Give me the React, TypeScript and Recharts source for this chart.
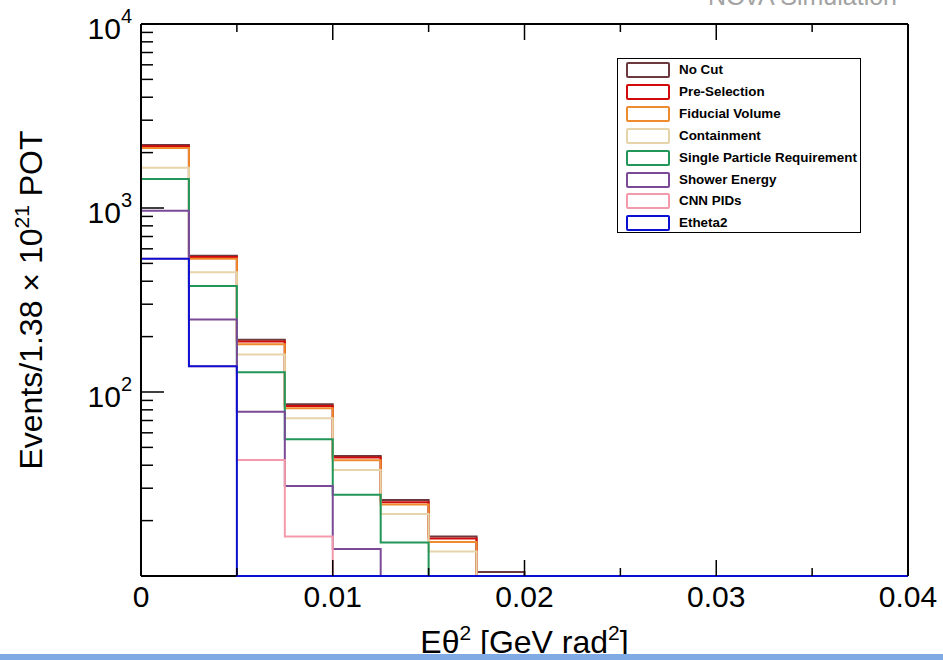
import React from "react";
import { LineChart, Line, XAxis, YAxis, CartesianGrid } from "recharts";

const FONT = '"Liberation Sans", Arial, Helvetica, sans-serif';
const Y_MIN = 10;
const Y_MAX = 10000;

// bin edges of the Etheta2 histogram (16 bins + upper edge)
const binEdges = [
  0, 0.0025, 0.005, 0.0075, 0.01, 0.0125, 0.015, 0.0175, 0.02, 0.0225, 0.025,
  0.0275, 0.03, 0.0325, 0.035, 0.0375, 0.04,
];

// events per bin for each cut stage (0 = empty bin, drawn on the axis floor)
const noCut = [2200, 551, 192, 85.7, 44.9, 25.9, 16.4, 10.5, 0, 0, 0, 0, 0, 0, 0, 0];
const preSelection = [2164, 542, 188, 84, 44, 25.2, 16, 0, 0, 0, 0, 0, 0, 0, 0, 0];
const fiducialVolume = [2118, 530, 182, 81.5, 42.6, 24.5, 15.3, 0, 0, 0, 0, 0, 0, 0, 0, 0];
const containment = [1656, 447, 160, 71.9, 37.7, 21.7, 13.6, 0, 0, 0, 0, 0, 0, 0, 0, 0];
const singleParticle = [1439, 377, 128, 55.3, 27.6, 15.2, 0, 0, 0, 0, 0, 0, 0, 0, 0, 0];
const showerEnergy = [967, 248, 78, 30.8, 14, 0, 0, 0, 0, 0, 0, 0, 0, 0, 0, 0];
const cnnPids = [530, 138, 42.7, 16.4, 0, 0, 0, 0, 0, 0, 0, 0, 0, 0, 0, 0];
const etheta2 = [530, 138, 0, 0, 0, 0, 0, 0, 0, 0, 0, 0, 0, 0, 0, 0];

const xTicks = [0, 0.005, 0.01, 0.015, 0.02, 0.025, 0.03, 0.035, 0.04];
const xMajor = [0, 0.01, 0.02, 0.03, 0.04];
const xLabels = ["0", "0.01", "0.02", "0.03", "0.04"];
const yTicks = [
  20, 30, 40, 50, 60, 70, 80, 90, 100, 200, 300, 400, 500, 600, 700, 800, 900,
  1000, 2000, 3000, 4000, 5000, 6000, 7000, 8000, 9000, 10000,
];

const series = [
  { key: "noCut", name: "No Cut", color: "#6c3a3e", values: noCut },
  { key: "preSelection", name: "Pre-Selection", color: "#d20a0a", values: preSelection },
  { key: "fiducialVolume", name: "Fiducial Volume", color: "#ef8a2e", values: fiducialVolume },
  { key: "containment", name: "Containment", color: "#e8d4aa", values: containment },
  { key: "singleParticle", name: "Single Particle Requirement", color: "#229659", values: singleParticle },
  { key: "showerEnergy", name: "Shower Energy", color: "#7a4a98", values: showerEnergy },
  { key: "cnnPids", name: "CNN PIDs", color: "#f59aab", values: cnnPids },
  { key: "etheta2", name: "Etheta2", color: "#0a0fd2", values: etheta2 },
];

const data = binEdges.map((x, i) => {
  const row: Record<string, number> = { x };
  const bin = Math.min(i, binEdges.length - 2);
  for (const s of series) row[s.key] = Math.max(s.values[bin], Y_MIN);
  return row;
});

const isDecade = (v: number) => Math.abs(Math.log10(v) - Math.round(Math.log10(v))) < 1e-6;

function LeftTick(props: any) {
  const { x, y, payload } = props;
  const v = payload.value;
  const major = isDecade(v);
  return (
    <g>
      <line x1={x} x2={x + (major ? 23 : 12)} y1={y} y2={y} stroke="#000" strokeWidth={1.5} />
      {major && (
        <text x={x - 9} y={y + 15} textAnchor="end" fontSize={30} fontFamily={FONT} fill="#000">
          <tspan>10</tspan>
          <tspan fontSize={20} dy={-16}>{Math.round(Math.log10(v))}</tspan>
        </text>
      )}
    </g>
  );
}

function RightTick(props: any) {
  const { x, y, payload } = props;
  const major = isDecade(payload.value);
  return <line x1={x} x2={x - (major ? 23 : 12)} y1={y} y2={y} stroke="#000" strokeWidth={1.5} />;
}

function BottomTick(props: any) {
  const { x, y, payload } = props;
  const idx = xMajor.findIndex((m) => Math.abs(m - payload.value) < 1e-9);
  const major = idx >= 0;
  return (
    <g>
      <line x1={x} x2={x} y1={y} y2={y - (major ? 16 : 8)} stroke="#000" strokeWidth={1.5} />
      {major && (
        <text x={x} y={y + 31} textAnchor="middle" fontSize={30} fontFamily={FONT} fill="#000">
          {xLabels[idx]}
        </text>
      )}
    </g>
  );
}

function TopTick(props: any) {
  const { x, y, payload } = props;
  const major = xMajor.some((m) => Math.abs(m - payload.value) < 1e-9);
  return <line x1={x} x2={x} y1={y} y2={y + (major ? 16 : 8)} stroke="#000" strokeWidth={1.5} />;
}

const frame = { stroke: "#000", strokeWidth: 2 };

export default function App() {
  return (
    <div
      style={{
        position: "absolute",
        left: 0,
        top: 0,
        width: 943,
        height: 660,
        overflow: "hidden",
        background: "#fff",
        fontFamily: FONT,
      }}
    >
      <LineChart
        width={943}
        height={660}
        data={data}
        margin={{ top: 4, right: 15, bottom: 34, left: 81 }}
      >
        {/* bottom frame edge drawn under the histograms so empty bins sit on top of it */}
        <CartesianGrid
          vertical={false}
          stroke="#000"
          strokeWidth={2}
          strokeDasharray=""
          horizontalCoordinatesGenerator={({ offset }: any) => [offset.top + offset.height]}
        />
        <XAxis
          dataKey="x"
          type="number"
          domain={[0, 0.04]}
          ticks={xTicks}
          interval={0}
          height={50}
          tickSize={0}
          tickMargin={0}
          tickLine={false}
          axisLine={false}
          tick={(p: any) => <BottomTick {...p} />}
        />
        <XAxis
          xAxisId="top"
          orientation="top"
          dataKey="x"
          type="number"
          domain={[0, 0.04]}
          ticks={xTicks}
          interval={0}
          height={20}
          tickSize={0}
          tickMargin={0}
          tickLine={false}
          axisLine={frame}
          tick={(p: any) => <TopTick {...p} />}
        />
        <YAxis
          type="number"
          scale="log"
          domain={[Y_MIN, Y_MAX]}
          ticks={yTicks}
          interval={0}
          width={60}
          tickSize={0}
          tickMargin={0}
          tickLine={false}
          axisLine={frame}
          tick={(p: any) => <LeftTick {...p} />}
        />
        <YAxis
          yAxisId="right"
          orientation="right"
          type="number"
          scale="log"
          domain={[Y_MIN, Y_MAX]}
          ticks={yTicks}
          interval={0}
          width={20}
          tickSize={0}
          tickMargin={0}
          tickLine={false}
          axisLine={frame}
          tick={(p: any) => <RightTick {...p} />}
        />
        {series.map((s) => (
          <Line
            key={s.key}
            dataKey={s.key}
            name={s.name}
            type="stepAfter"
            stroke={s.color}
            strokeWidth={2}
            dot={false}
            activeDot={false}
            isAnimationActive={false}
          />
        ))}
      </LineChart>

      <svg
        width={943}
        height={660}
        style={{ position: "absolute", left: 0, top: 0, pointerEvents: "none" }}
      >
        <text x={897} y={5} textAnchor="end" fontSize={25} fontFamily={FONT} fill="#a3a3a3">
          NOvA Simulation
        </text>
        <text x={524.5} y={653} textAnchor="middle" fontSize={32} fontFamily={FONT} fill="#000">
          <tspan>Eθ</tspan>
          <tspan fontSize={21} dy={-13}>2</tspan>
          <tspan dy={13}> [GeV rad</tspan>
          <tspan fontSize={21} dy={-13}>2</tspan>
          <tspan dy={13}>]</tspan>
        </text>
        <text
          transform="rotate(-90)"
          x={-300}
          y={42}
          textAnchor="middle"
          fontSize={32}
          fontFamily={FONT}
          fill="#000"
        >
          <tspan>Events/1.38 × 10</tspan>
          <tspan fontSize={21} dy={-13}>21</tspan>
          <tspan dy={13}> POT</tspan>
        </text>
      </svg>

      <div
        style={{
          position: "absolute",
          left: 617,
          top: 58,
          width: 242,
          height: 173,
          border: "1.5px solid #000",
          background: "#fff",
        }}
      >
        {series.map((s, i) => (
          <div
            key={s.key}
            style={{
              position: "absolute",
              left: 8,
              top: 3 + i * 21.9,
              height: 16,
              display: "flex",
              alignItems: "center",
              whiteSpace: "nowrap",
            }}
          >
            <div
              style={{
                width: 40,
                height: 12,
                border: `2px solid ${s.color}`,
                borderRadius: 2,
                marginRight: 9,
              }}
            />
            <span style={{ fontSize: 13.4, fontWeight: "bold", color: "#000", lineHeight: "16px" }}>
              {s.name}
            </span>
          </div>
        ))}
      </div>

      <div
        style={{
          position: "absolute",
          left: 0,
          top: 654,
          width: 943,
          height: 6,
          background: "#80aae4",
        }}
      />
    </div>
  );
}
